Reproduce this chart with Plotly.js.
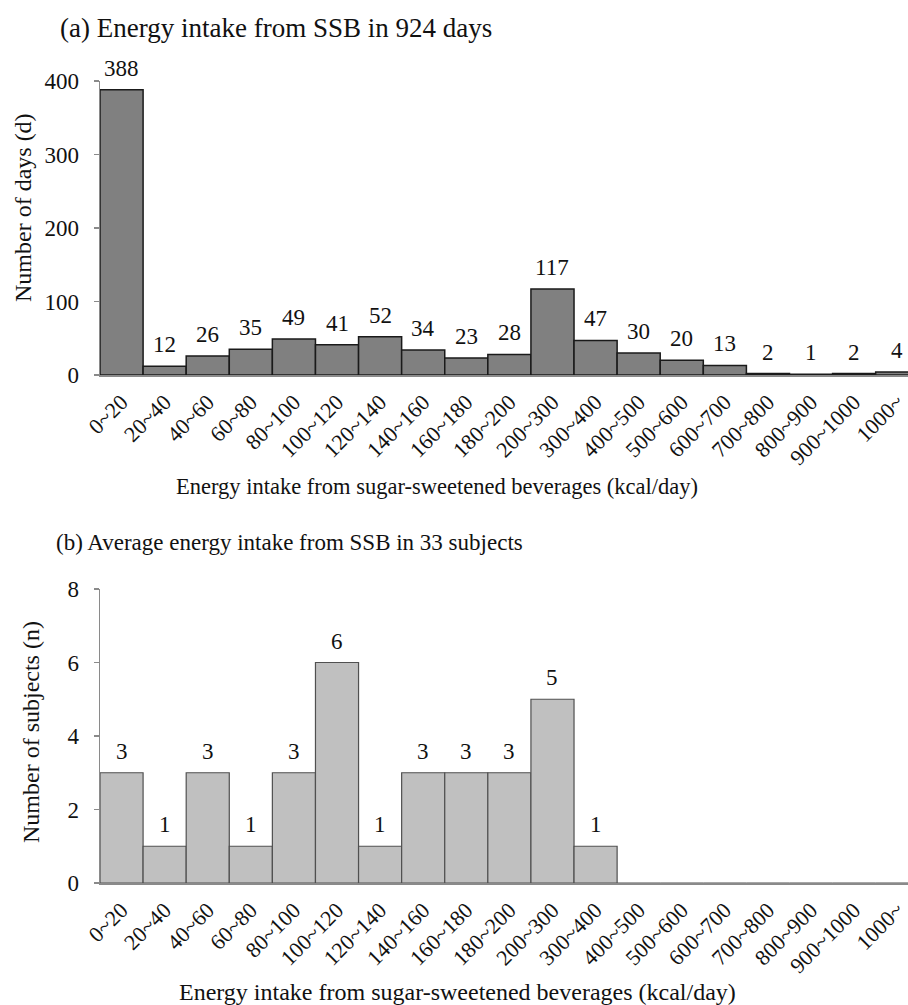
<!DOCTYPE html>
<html>
<head>
<meta charset="utf-8">
<script src="https://cdn.plot.ly/plotly-3.0.1.min.js"></script>
<style>
html,body{margin:0;padding:0;background:#fff;}
#chart{width:908px;height:1005px;}
</style>
</head>
<body>
<div id="chart"></div>
<script>
const categories = ["0~20","20~40","40~60","60~80","80~100","100~120","120~140","140~160","160~180","180~200","200~300","300~400","400~500","500~600","600~700","700~800","800~900","900~1000","1000~"];
const daysCounts = [388,12,26,35,49,41,52,34,23,28,117,47,30,20,13,2,1,2,4];
const subjectCounts = [3,1,3,1,3,6,1,3,3,3,5,1,0,0,0,0,0,0,0];
const titleA = "(a) Energy intake from SSB in 924 days";
const titleB = "(b) Average energy intake from SSB in 33 subjects";
const xTitle = "Energy intake from sugar-sweetened beverages (kcal/day)";
const yTitleA = "Number of days (d)";
const yTitleB = "Number of subjects (n)";
const yTicksA = [0,100,200,300,400];
const yTicksB = [0,2,4,6,8];

const W = 908, H = 1005;
const FONT = "Liberation Serif";
const px = v => v / W;
const py = v => 1 - v / H;

const traces = [
  {
    type: "bar", x: categories, y: daysCounts, xaxis: "x", yaxis: "y",
    marker: {color: "#808080", line: {color: "#1a1a1a", width: 1.5}},
    hoverinfo: "x+y"
  },
  {
    type: "bar", x: categories, y: subjectCounts, xaxis: "x2", yaxis: "y2",
    marker: {color: "#c0c0c0", line: {color: "#505050", width: 1.2}},
    hoverinfo: "x+y"
  }
];

const annotations = [];
daysCounts.forEach((v, i) => {
  annotations.push({xref: "x", yref: "y", x: categories[i], y: v, text: String(v),
    showarrow: false, yanchor: "bottom", yshift: 7,
    font: {family: FONT, size: 23, color: "#111"}});
});
subjectCounts.forEach((v, i) => {
  if (v > 0) annotations.push({xref: "x2", yref: "y2", x: categories[i], y: v, text: String(v),
    showarrow: false, yanchor: "bottom", yshift: 7,
    font: {family: FONT, size: 23, color: "#111"}});
});
annotations.push(
  {xref: "paper", yref: "paper", x: px(58), y: py(28), xanchor: "left", yanchor: "middle",
   text: titleA, showarrow: false, font: {family: FONT, size: 27, color: "#111"}},
  {xref: "paper", yref: "paper", x: px(54), y: py(542), xanchor: "left", yanchor: "middle",
   text: titleB, showarrow: false, font: {family: FONT, size: 23, color: "#111"}},
  {xref: "paper", yref: "paper", x: px(437), y: py(486), xanchor: "center", yanchor: "middle",
   text: xTitle, showarrow: false, font: {family: FONT, size: 22.5, color: "#111"}},
  {xref: "paper", yref: "paper", x: px(457), y: py(992), xanchor: "center", yanchor: "middle",
   text: xTitle, showarrow: false, font: {family: FONT, size: 24, color: "#111"}},
  {xref: "paper", yref: "paper", x: px(23), y: py(208), xanchor: "center", yanchor: "middle",
   text: yTitleA, textangle: -90, showarrow: false, font: {family: FONT, size: 24, color: "#111"}},
  {xref: "paper", yref: "paper", x: px(31), y: py(732), xanchor: "center", yanchor: "middle",
   text: yTitleB, textangle: -90, showarrow: false, font: {family: FONT, size: 24, color: "#111"}}
);

const xCommon = {
  type: "category", range: [-0.5, 18.25], domain: [px(100), 1],
  showline: true, linecolor: "#8a8a8a", linewidth: 1.5,
  ticks: "", tickangle: -45, showgrid: false, zeroline: false,
  tickfont: {family: FONT, size: 22, color: "#111"}, automargin: false,
  ticklabelstandoff: 4
};
const yCommon = {
  showline: true, linecolor: "#8a8a8a", linewidth: 1.5,
  ticks: "outside", ticklen: 5, tickcolor: "#8a8a8a", tickwidth: 1.5,
  showgrid: false, zeroline: false, automargin: false,
  tickfont: {family: FONT, size: 23, color: "#111"}, ticklabelstandoff: 10
};

const layout = {
  width: W, height: H,
  margin: {l: 0, r: 0, t: 0, b: 0},
  paper_bgcolor: "#fff", plot_bgcolor: "#fff",
  font: {family: FONT},
  showlegend: false, bargap: 0,
  xaxis: Object.assign({}, xCommon, {anchor: "y"}),
  yaxis: Object.assign({}, yCommon, {anchor: "x", domain: [py(375), py(81)], range: [0, 400], tickvals: yTicksA}),
  xaxis2: Object.assign({}, xCommon, {anchor: "y2"}),
  yaxis2: Object.assign({}, yCommon, {anchor: "x2", domain: [py(883), py(589)], range: [0, 8], tickvals: yTicksB}),
  annotations: annotations
};

Plotly.newPlot("chart", traces, layout, {displayModeBar: false, staticPlot: true});
</script>
</body>
</html>
